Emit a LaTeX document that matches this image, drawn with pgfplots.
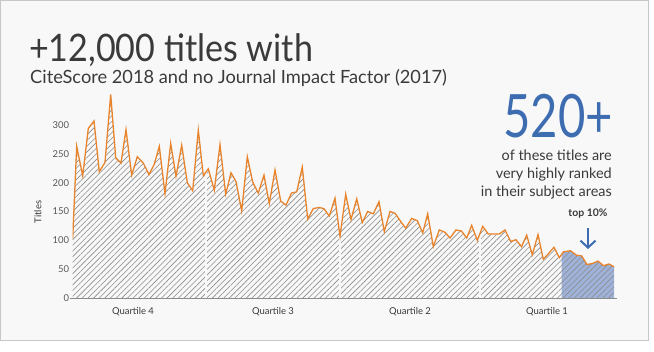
\documentclass[border=0pt]{standalone}
\usepackage{graphicx}
\usepackage{pgfplots}
\pgfplotsset{compat=1.18}
\usepackage{pgfplotstable}
\usetikzlibrary{patterns.meta,arrows.meta}
\usepackage{fontspec}
\setmainfont{Lato}
\definecolor{orangeline}{HTML}{E8842C}
\definecolor{bluefill}{HTML}{9FB2DA}
\definecolor{bluetext}{HTML}{3D6DB0}
\definecolor{darktext}{HTML}{3A3A3A}
\definecolor{bgcol}{HTML}{F8F8F8}
\definecolor{hatch}{HTML}{8C8C8C}

\pgfplotstableread{
x y
72.7 103
76.7 263
82.7 212
88.3 294
94.0 307
99.3 219
105.0 235
110.7 353
115.7 243
121.0 234
126.0 292
131.7 213
137.3 245
143.3 234
149.0 214
154.3 232
159.3 263
165.0 181
170.7 268
176.0 211
181.7 265
187.3 200
192.7 186
198.3 291
203.3 212
208.3 224
214.3 187
220.0 266
225.7 180
231.0 217
236.0 202
241.7 151
247.3 245
252.7 201
258.3 182
264.0 213
269.3 164
275.0 222
280.7 168
286.0 161
291.5 182
296.7 184
302.3 227
307.7 137
313.3 155
319.0 157
324.0 155
329.3 142
335.0 173
340.0 107
345.7 180
351.0 136
356.7 172
362.3 131
367.7 150
373.3 146
379.0 167
384.3 115
390.0 150
395.0 147
401.0 132
405.7 121
411.7 138
417.3 134
422.7 113
427.7 146
433.3 89
439.3 118
445.0 114
450.0 104
456.0 118
461.5 116
466.7 104
471.7 126
477.3 100
482.7 124
488.3 111
494.0 111
499.3 111
505.0 118
510.7 98
516.0 101
521.5 89
526.7 109
532.3 75
538.0 110
543.3 67
549.0 78
554.0 88
559.3 70
563.5 80
570.5 82
576.7 74
581.7 73
587.0 58
592.7 60
598.0 64
603.5 56
609.0 59
614.2 54
}\curve

\begin{document}
\begin{tikzpicture}
\useasboundingbox (0,0) rectangle (654bp,352bp);
\fill[white] (0,0) rectangle (654bp,352bp);
\filldraw[fill=bgcol, draw=black!22, line width=0.8bp] (0.5bp,12bp) rectangle (648bp,351.5bp);

\begin{axis}[
  at={(72.7bp,54bp)}, anchor=south west,
  scale only axis, width=541.5bp, height=207.6bp,
  xmin=72.7, xmax=614.2, ymin=0, ymax=360,
  axis line style={draw=none},
  major tick length=0pt,
  xtick=\empty,
  ytick={0,50,100,150,200,250,300},
  /pgf/number format/assume math mode=true,
  yticklabel style={font=\fontsize{9.5}{11}\selectfont, text=darktext!85},
]
\begin{scope}
\clip (axis cs:561.7,0) rectangle (axis cs:616,360);
\addplot[fill=bluefill, draw=none] table[x=x,y=y] {\curve} \closedcycle;
\end{scope}
\addplot[draw=none, pattern={Lines[angle=45,distance=4bp,line width=0.6bp]}, pattern color=hatch] table[x=x,y=y] {\curve} \closedcycle;
\addplot[bgcol, line width=1.8bp] coordinates {(206,0) (206,217)};
\addplot[bgcol, line width=1.8bp] coordinates {(340,0) (340,104)};
\addplot[bgcol, line width=1.8bp] coordinates {(480,0) (480,110)};
\addplot[orangeline, line width=1.3bp] table[x=x,y=y] {\curve};
\end{axis}
\draw[black!45, line width=0.8bp] (70bp,54bp) -- (617bp,54bp);

\node[anchor=base west, text=darktext, inner sep=0] at (29bp,290bp) {\scalebox{0.9}[1]{\fontsize{38}{40}\selectfont +12,000 titles with}};
\node[anchor=base west, text=darktext, inner sep=0] at (30bp,268bp) {\fontsize{18.3}{20}\selectfont CiteScore 2018 and no Journal Impact Factor (2017)};
\node[anchor=base east, text=bluetext, inner sep=0] at (613bp,214bp) {\scalebox{0.79}[1]{\fontsize{60}{62}\selectfont 520+}};
\node[anchor=base east, text=darktext, inner sep=0] at (612bp,191bp) {\fontsize{14.5}{16}\selectfont of these titles are};
\node[anchor=base east, text=darktext, inner sep=0] at (612bp,173bp) {\fontsize{14.5}{16}\selectfont very highly ranked};
\node[anchor=base east, text=darktext, inner sep=0] at (612bp,155bp) {\fontsize{14.5}{16}\selectfont in their subject areas};
\node[anchor=base, text=darktext, inner sep=0] at (588bp,135bp) {\fontsize{10.5}{12}\selectfont\bfseries top 10\%};
\draw[bluetext, line width=2bp, -{Straight Barb[length=7bp,width=15bp,line width=2bp]}] (588bp,124bp) -- (588bp,103bp);
\node[rotate=90, text=darktext, inner sep=0] at (38bp,140bp) {\fontsize{9.5}{11}\selectfont Titles};
\node[text=darktext, inner sep=0] at (133bp,40bp) {\fontsize{9.5}{11}\selectfont Quartile 4};
\node[text=darktext, inner sep=0] at (273bp,40bp) {\fontsize{9.5}{11}\selectfont Quartile 3};
\node[text=darktext, inner sep=0] at (410bp,40bp) {\fontsize{9.5}{11}\selectfont Quartile 2};
\node[text=darktext, inner sep=0] at (547bp,40bp) {\fontsize{9.5}{11}\selectfont Quartile 1};
\end{tikzpicture}
\end{document}
